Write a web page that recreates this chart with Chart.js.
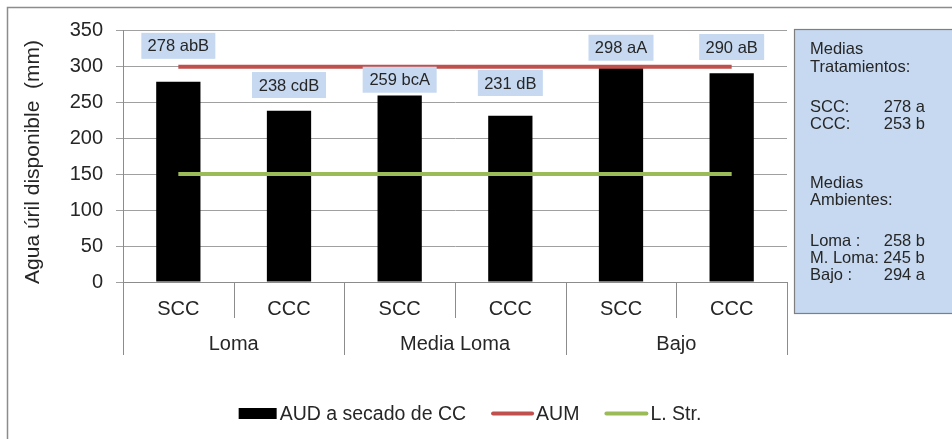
<!DOCTYPE html>
<html><head><meta charset="utf-8">
<script src="https://cdn.jsdelivr.net/npm/chart.js@4.4.1/dist/chart.umd.min.js"></script>
<style>html,body{margin:0;padding:0;background:#fff;} #wrap{width:952px;height:439px;position:relative;}</style>
</head><body><div id="wrap"><canvas id="c" width="952" height="439"></canvas></div>
<script>
// ---- data ----
const categories = ['SCC', 'CCC', 'SCC', 'CCC', 'SCC', 'CCC'];
const groups = ['Loma', 'Media Loma', 'Bajo'];
const audValues = [278, 238, 259, 231, 298, 290];
const aumValues = [299, 299, 299, 299, 299, 299];
const lstrValues = [150, 150, 150, 150, 150, 150];
const barLabels = ['278 abB', '238 cdB', '259 bcA', '231 dB', '298 aA', '290 aB'];
const seriesNames = ['AUD a secado de CC', 'AUM', 'L. Str.'];
const yAxisTitle = 'Agua úril disponible  (mm)';
const yMin = 0, yMax = 350, yStep = 50;
const sideLeft = ['Medias', 'Tratamientos:', 'SCC:', 'CCC:', 'Medias', 'Ambientes:', 'Loma :', 'M. Loma: 245 b', 'Bajo :'];
const sideRight = ['', '', '278 a', '253 b', '', '', '258 b', '', '294 a'];

// ---- style ----
const FONT = '"Liberation Sans", Arial, sans-serif';
const TXT = '#262626';
const RED = '#c0504d', GREEN = '#9bbb59', BLACK = '#000000', BOXBG = '#c6d9f1';
const GRID = '#a0a0a0', AXIS = '#8c8c8c';

const customPlugin = {
  id: 'custom',
  afterDatasetsDraw(chart, args, opts) {
    const ctx = chart.ctx;
    const barIndex = chart.data.datasets.findIndex(d => d.type === 'bar');
    const meta = chart.getDatasetMeta(barIndex);
    ctx.save();
    ctx.font = '16.5px ' + FONT;
    ctx.textAlign = 'center';
    ctx.textBaseline = 'middle';
    meta.data.forEach((bar, i) => {
      const text = barLabels[i];
      const w = Math.round(ctx.measureText(text).width + 13);
      const h = 26;
      const bottom = bar.y - opts.labelGaps[i];
      ctx.fillStyle = BOXBG;
      ctx.fillRect(bar.x - w / 2, bottom - h, w, h);
      ctx.fillStyle = TXT;
      ctx.fillText(text, bar.x, bottom - h / 2 + 1);
    });
    ctx.restore();
  },
  afterDraw(chart, args, opts) {
    const ctx = chart.ctx;
    const xs = chart.scales.x;
    const area = chart.chartArea;
    const n = categories.length;
    const step = (area.right - area.left) / n;
    ctx.save();
    // y axis title
    ctx.fillStyle = TXT;
    ctx.font = '21px ' + FONT;
    ctx.textAlign = 'center';
    ctx.textBaseline = 'middle';
    ctx.save();
    ctx.translate(33, 162);
    ctx.rotate(-Math.PI / 2);
    ctx.fillText(yAxisTitle, 0, 0);
    ctx.restore();
    // separators
    ctx.strokeStyle = AXIS;
    ctx.lineWidth = 1;
    for (let i = 0; i <= n; i++) {
      const x = Math.round(area.left + step * i) + 0.5;
      const long = (i % 2 === 0);
      ctx.beginPath();
      ctx.moveTo(x, area.bottom);
      ctx.lineTo(x, area.bottom + (long ? 73 : 36));
      ctx.stroke();
    }
    // category labels
    ctx.fillStyle = TXT;
    ctx.font = '20px ' + FONT;
    ctx.textAlign = 'center';
    ctx.textBaseline = 'middle';
    categories.forEach((c, i) => {
      ctx.fillText(c, xs.getPixelForValue(i), area.bottom + 27);
    });
    groups.forEach((g, j) => {
      const x = (xs.getPixelForValue(2 * j) + xs.getPixelForValue(2 * j + 1)) / 2;
      ctx.fillText(g, x, area.bottom + 62);
    });
    // side box
    const bx = 794.5, by = 29.5;
    ctx.fillStyle = BOXBG;
    ctx.fillRect(bx, by, 960 - bx, 284);
    ctx.strokeStyle = '#7f7f7f';
    ctx.lineWidth = 1.2;
    ctx.strokeRect(bx, by, 960 - bx, 284);
    ctx.fillStyle = TXT;
    ctx.font = '16.5px ' + FONT;
    const ys = [49, 67, 107, 124, 183, 200, 241, 258, 275];
    sideLeft.forEach((t, i) => {
      ctx.textAlign = 'left';
      ctx.fillText(t, 810, ys[i]);
      if (sideRight[i]) {
        ctx.textAlign = 'right';
        ctx.fillText(sideRight[i], 925, ys[i]);
      }
    });
    // legend
    ctx.font = '19.5px ' + FONT;
    ctx.textAlign = 'left';
    const ly = 413.5;
    const items = [
      { name: seriesNames[0], type: 'box', color: BLACK, sw: 38 },
      { name: seriesNames[1], type: 'line', color: RED, sw: 41 },
      { name: seriesNames[2], type: 'line', color: GREEN, sw: 42 }
    ];
    const gapText = 3, gapItem = 26;
    let total = 0;
    items.forEach((it, i) => { it.tw = ctx.measureText(it.name).width; total += it.sw + gapText + it.tw + (i < items.length - 1 ? gapItem : 0); });
    let x = 470 - total / 2;
    items.forEach(it => {
      if (it.type === 'box') {
        ctx.fillStyle = it.color;
        ctx.fillRect(x, ly - 5.5, it.sw, 11);
      } else {
        ctx.strokeStyle = it.color;
        ctx.lineWidth = 4;
        ctx.lineCap = 'round';
        ctx.beginPath();
        ctx.moveTo(x + 1, ly);
        ctx.lineTo(x + it.sw - 1, ly);
        ctx.stroke();
      }
      ctx.fillStyle = TXT;
      ctx.fillText(it.name, x + it.sw + gapText, ly + 1);
      x += it.sw + gapText + it.tw + gapItem;
    });
    // outer border (top & left visible)
    ctx.strokeStyle = '#8c8c8c';
    ctx.lineWidth = 1.5;
    ctx.beginPath();
    ctx.moveTo(7.5, 445);
    ctx.lineTo(7.5, 7.5);
    ctx.lineTo(960, 7.5);
    ctx.stroke();
    ctx.restore();
  }
};

new Chart(document.getElementById('c'), {
  type: 'bar',
  data: {
    labels: categories,
    datasets: [
      { type: 'line', label: seriesNames[1], data: aumValues, borderColor: RED, backgroundColor: RED, borderWidth: 4, pointRadius: 0, fill: false, order: 1 },
      { type: 'line', label: seriesNames[2], data: lstrValues, borderColor: GREEN, backgroundColor: GREEN, borderWidth: 4, pointRadius: 0, fill: false, order: 2 },
      { type: 'bar', label: seriesNames[0], data: audValues, backgroundColor: BLACK, barPercentage: 0.4, categoryPercentage: 1, order: 3 }
    ]
  },
  options: {
    responsive: false,
    animation: false,
    events: [],
    layout: { padding: { top: 30, right: 165, bottom: 0, left: 0 } },
    plugins: {
      legend: { display: false },
      tooltip: { enabled: false },
      custom: { labelGaps: [23, 12.6, 2.8, 19.7, 6.7, 13.2] }
    },
    scales: {
      x: {
        ticks: { display: false },
        grid: { display: false },
        border: { display: true, color: AXIS, width: 1 },
        afterFit(s) { s.height = 157; }
      },
      y: {
        min: yMin, max: yMax,
        ticks: { stepSize: yStep, color: TXT, font: { size: 20, family: FONT }, padding: 13 },
        grid: { color: GRID, lineWidth: 1, tickLength: 7, drawTicks: true },
        border: { display: true, color: AXIS, width: 1 },
        title: { display: false },
        afterFit(s) { s.width = 123; }
      }
    }
  },
  plugins: [customPlugin]
});
</script>
</body></html>
